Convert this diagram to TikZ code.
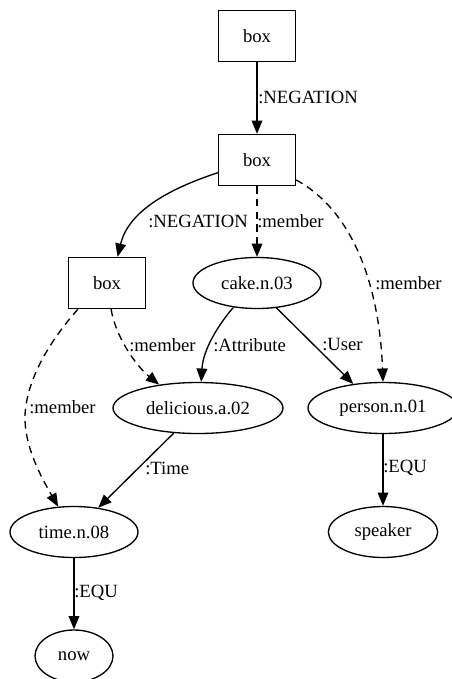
\documentclass[tikz,border=0pt]{standalone}
\usepackage{fontspec}
\setmainfont{Liberation Serif}
\usetikzlibrary{shapes.geometric,arrows.meta}
\begin{document}
\begin{tikzpicture}[x=0.75pt,y=-0.75pt,
  font=\fontsize{14pt}{16pt}\selectfont,
  drsbox/.style={draw, rectangle, line width=1pt, minimum width=57.75pt, minimum height=38.25pt, inner sep=0pt},
  sense/.style={draw, ellipse, line width=1pt, minimum height=38.25pt, inner sep=0pt},
  rel/.style={line width=1pt, -{Triangle[length=10pt,width=8pt]}},
  memb/.style={rel, dash pattern=on 5.5pt off 4pt},
  lbl/.style={anchor=west, inner sep=0pt}]
\useasboundingbox (0,0) rectangle (452,679);

% boxes
\node[drsbox] (b1) at (257,36) {box};
\node[drsbox] (b2) at (257,160) {box};
\node[drsbox] (b3) at (107,283) {box};

% senses and constants
\node[sense, minimum width=96pt]   (cake)    at (257,283) {cake.n.03};
\node[sense, minimum width=127.5pt](del)     at (198,408) {delicious.a.02};
\node[sense, minimum width=112.5pt](person)  at (383,408) {person.n.01};
\node[sense, minimum width=96pt]   (time)    at (74,532)  {time.n.08};
\node[sense, minimum width=82pt]   (speaker) at (383,532) {speaker};
\node[sense, minimum width=58.5pt, minimum height=39pt] (now) at (74,656) {now};

% relations
\draw[rel] (b1) -- (b2);
\draw[rel] (b2.198) .. controls (165,190) and (128,213) .. (b3.68);
\draw[memb] (b2) -- (cake);
\draw[memb] (b2.-27) .. controls (360,215) and (380,300) .. (person.north);
\draw[memb] (b3.-81) .. controls (115,335) and (135,365) .. (del.149);
\draw[memb] (b3.222) .. controls (55,335) and (27,375) .. (25,415)
                     .. controls (24,445) and (40,475) .. (time.122);
\draw[rel] (cake.-134) .. controls (218,325) and (203,350) .. (del.83);
\draw[rel] (cake.-52) -- (person.141);
\draw[rel] (del.-134) -- (time.45);
\draw[rel] (person) -- (speaker);
\draw[rel] (time) -- (now);

% edge labels
\node[lbl] (l1)  at (258,97)  {:NEGATION};
\node[lbl] (l2)  at (148,221) {:NEGATION};
\node[lbl] (l3)  at (257,221) {:member};
\node[lbl] (l4)  at (375,283) {:member};
\node[lbl] (l5)  at (129,345) {:member};
\node[lbl] (l6)  at (213,345) {:Attribute};
\node[lbl] (l7)  at (322,345) {:User};
\node[lbl] (l8)  at (29,407)  {:member};
\node[lbl] (l9)  at (145,468) {:Time};
\node[lbl] (l10) at (383,468) {:EQU};
\node[lbl] (l11) at (74,593)  {:EQU};
\end{tikzpicture}
\end{document}
